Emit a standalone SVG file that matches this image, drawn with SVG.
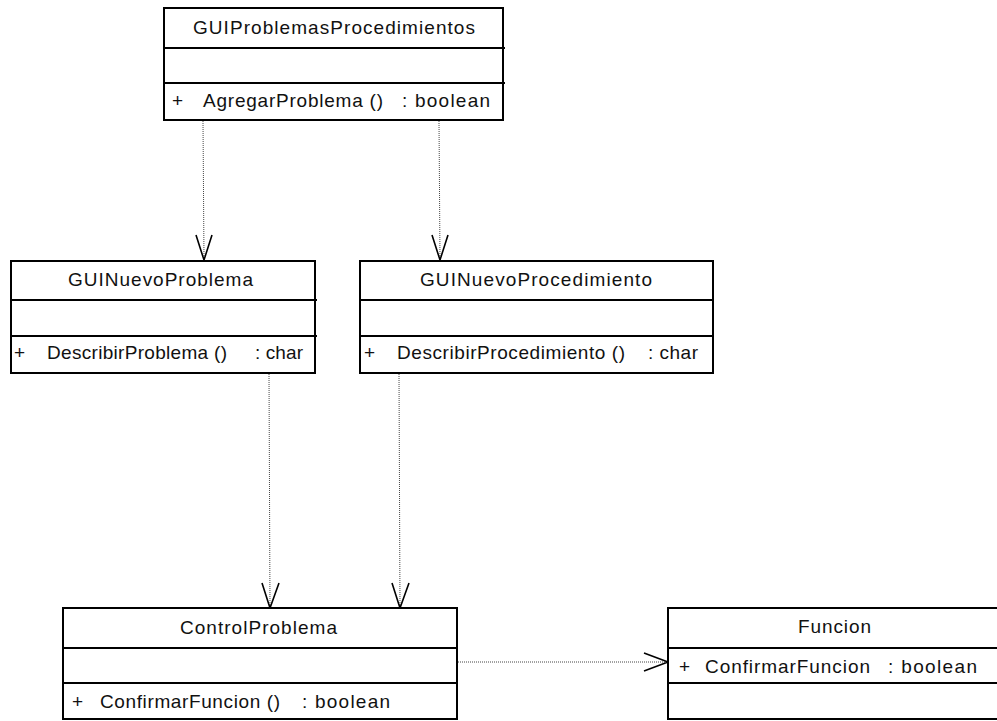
<svg xmlns="http://www.w3.org/2000/svg" width="997" height="721" viewBox="0 0 997 721">
<style>
.box{fill:#fff;stroke:#000;stroke-width:2}
.div{stroke:#000;stroke-width:2}
.t{font-family:"Liberation Sans",Arial,sans-serif;font-size:19px;fill:#111}
.dep{fill:none;stroke:#444;stroke-width:1;stroke-dasharray:1 1}
.head{fill:none;stroke:#000;stroke-width:1.6}
</style>
<rect width="997" height="721" fill="#fff"/>
<g id="connectors">
<path class="dep" d="M203,121 L204,259"/>
<path class="head" d="M196,235 L204,260 L212,235"/>
<path class="dep" d="M439,121 L440,259"/>
<path class="head" d="M432,235 L440,260 L448,235"/>
<path class="dep" d="M269,374 L270,607"/>
<path class="head" d="M262,583 L270,608 L279,583"/>
<path class="dep" d="M399,374 L400,607"/>
<path class="head" d="M392,583 L400,608 L409,583"/>
<path class="dep" d="M458,662 L667,662"/>
<path class="head" d="M644,653 L668,662 L644,671"/>
</g>
<g id="GUIProblemasProcedimientos">
<rect class="box" x="164" y="8" width="339" height="112"/>
<line class="div" x1="164" y1="48" x2="505" y2="48"/>
<line class="div" x1="164" y1="83" x2="505" y2="83"/>
<text class="t" x="193" y="34" textLength="282" lengthAdjust="spacing">GUIProblemasProcedimientos</text>
<text class="t" x="172" y="107">+</text>
<text class="t" x="203" y="107" textLength="180" lengthAdjust="spacing">AgregarProblema ()</text>
<text class="t" x="402" y="107" textLength="88" lengthAdjust="spacing">: boolean</text>
</g>
<g id="GUINuevoProblema">
<rect class="box" x="11" y="261" width="304" height="112"/>
<line class="div" x1="11" y1="300" x2="317" y2="300"/>
<line class="div" x1="11" y1="336" x2="317" y2="336"/>
<text class="t" x="68" y="286" textLength="185" lengthAdjust="spacing">GUINuevoProblema</text>
<text class="t" x="14" y="359">+</text>
<text class="t" x="47" y="359" textLength="180" lengthAdjust="spacing">DescribirProblema ()</text>
<text class="t" x="255" y="359" textLength="48" lengthAdjust="spacing">: char</text>
</g>
<g id="GUINuevoProcedimiento">
<rect class="box" x="360" y="261" width="353" height="112"/>
<line class="div" x1="360" y1="300" x2="713" y2="300"/>
<line class="div" x1="360" y1="336" x2="713" y2="336"/>
<text class="t" x="420" y="286" textLength="232" lengthAdjust="spacing">GUINuevoProcedimiento</text>
<text class="t" x="364" y="359">+</text>
<text class="t" x="397" y="359" textLength="228" lengthAdjust="spacing">DescribirProcedimiento ()</text>
<text class="t" x="648" y="359" textLength="50" lengthAdjust="spacing">: char</text>
</g>
<g id="ControlProblema">
<rect class="box" x="63" y="608" width="394" height="111"/>
<line class="div" x1="63" y1="648" x2="457" y2="648"/>
<line class="div" x1="63" y1="683" x2="457" y2="683"/>
<text class="t" x="180" y="634" textLength="157" lengthAdjust="spacing">ControlProblema</text>
<text class="t" x="72" y="708">+</text>
<text class="t" x="100" y="708" textLength="180" lengthAdjust="spacing">ConfirmarFuncion ()</text>
<text class="t" x="302" y="708" textLength="88" lengthAdjust="spacing">: boolean</text>
</g>
<g id="Funcion">
<rect class="box" x="668" y="608" width="333" height="111"/>
<line class="div" x1="668" y1="648" x2="1001" y2="648"/>
<line class="div" x1="668" y1="683" x2="1001" y2="683"/>
<text class="t" x="798" y="633" textLength="73" lengthAdjust="spacing">Funcion</text>
<text class="t" x="679" y="673">+</text>
<text class="t" x="705" y="673" textLength="165" lengthAdjust="spacing">ConfirmarFuncion</text>
<text class="t" x="888" y="673" textLength="89" lengthAdjust="spacing">: boolean</text>
</g>
</svg>
